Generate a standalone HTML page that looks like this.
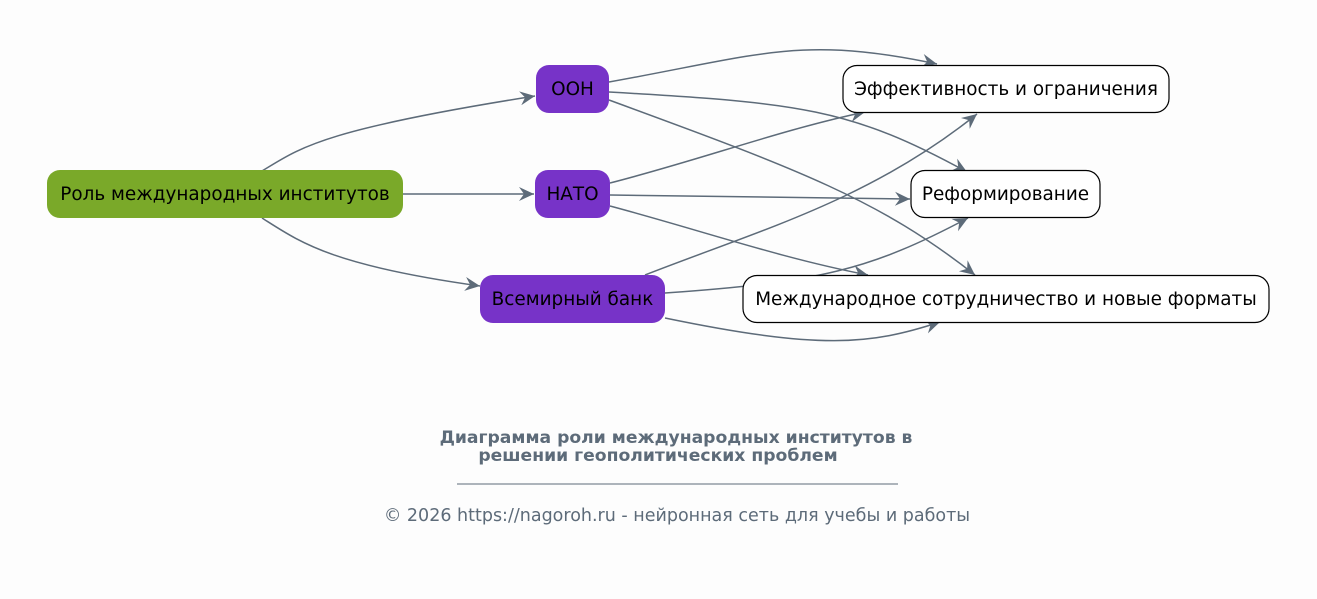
<!DOCTYPE html>
<html><head><meta charset="utf-8">
<style>
html,body{margin:0;padding:0;background:#fdfdfd;}
svg{display:block;font-family:"DejaVu Sans","Liberation Sans",sans-serif;}
</style></head>
<body>
<svg width="1317" height="599" viewBox="0 0 1317 599" xmlns="http://www.w3.org/2000/svg">
<defs>
<marker id="a" viewBox="0 0 16 16" refX="15" refY="8" markerWidth="16" markerHeight="16" markerUnits="userSpaceOnUse" orient="auto">
<path d="M0,1 L15,8 L0,15 L5,8 Z" fill="#5d6b79"/>
</marker>
</defs>
<rect width="1317" height="599" fill="#fdfdfd"/>
<g fill="none" stroke="#5d6b79" stroke-width="1.5" marker-end="url(#a)">
<path d="M262,171 C300,148 320,130 535,96"/>
<path d="M403,194 L534,194"/>
<path d="M262,218 C300,242 330,265 480,286"/>
<path d="M609,82 C760,55 800,35 937,64"/>
<path d="M609,92 C800,103 850,108 967,172"/>
<path d="M609,100 C800,170 880,200 975,275"/>
<path d="M610,183 C700,160 780,130 865,112"/>
<path d="M610,195 L910,199"/>
<path d="M610,206 C700,230 780,258 868,275"/>
<path d="M645,275 C760,230 870,200 977,114"/>
<path d="M665,293 C820,282 870,270 968,218"/>
<path d="M665,318 C820,350 870,345 940,322"/>
</g>
<g font-size="18.4" text-anchor="middle" fill="#000">
<rect x="47" y="170" width="356" height="48" rx="13" fill="#7aa929"/>
<text x="225" y="200">Роль международных институтов</text>
<rect x="536" y="65" width="73" height="48" rx="13" fill="#7733c8"/>
<text x="572.5" y="95">ООН</text>
<rect x="535" y="170" width="75" height="48" rx="13" fill="#7733c8"/>
<text x="572.5" y="200">НАТО</text>
<rect x="480" y="275" width="185" height="48" rx="13" fill="#7733c8"/>
<text x="572.5" y="305">Всемирный банк</text>
<rect x="843" y="65.5" width="326" height="47" rx="14" fill="#fff" stroke="#000" stroke-width="1.2"/>
<text x="1006" y="95">Эффективность и ограничения</text>
<rect x="911" y="170.5" width="189" height="47" rx="14" fill="#fff" stroke="#000" stroke-width="1.2"/>
<text x="1005.5" y="200">Реформирование</text>
<rect x="743" y="275.5" width="526" height="47" rx="14" fill="#fff" stroke="#000" stroke-width="1.2"/>
<text x="1006" y="305">Международное сотрудничество и новые форматы</text>
</g>
<text x="676" y="443" font-size="17.2" font-weight="bold" text-anchor="middle" fill="#5d6b79">Диаграмма роли международных институтов в</text>
<text x="658" y="461" font-size="17.2" font-weight="bold" text-anchor="middle" fill="#5d6b79">решении геополитических проблем</text>
<line x1="457" y1="484" x2="898" y2="484" stroke="#5d6b79" stroke-width="1"/>
<text x="677" y="521" font-size="17.5" text-anchor="middle" fill="#5d6b79">© 2026 https://nagoroh.ru - нейронная сеть для учебы и работы</text>
</svg>
</body></html>
